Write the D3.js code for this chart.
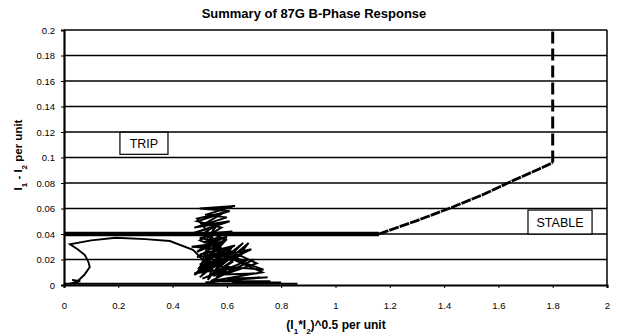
<!DOCTYPE html>
<html>
<head>
<meta charset="utf-8">
<script src="https://cdn.jsdelivr.net/npm/d3@7"></script>
<style>
  body { margin: 0; background: #fff; }
  text { font-family: "Liberation Sans", Arial, sans-serif; fill: #000; }
</style>
</head>
<body>
<div id="container"></div>
<script>
// relay characteristic: flat part then rising curve, then vertical dashed limit
var charFlat = [[0, 0.04], [1.16, 0.04]];
var charSlope = [[1.16, 0.04], [1.3, 0.0505], [1.43, 0.061], [1.55, 0.0715], [1.65, 0.0815], [1.75, 0.091], [1.8, 0.096]];
var charLimit = [[1.8, 0.096], [1.8, 0.2]];

var traceX = [0.00, 0.02, 0.04, 0.06, 0.03, 0.05, 0.075, 0.095, 0.09, 0.077, 0.05, 0.022, 0.10, 0.19, 0.30, 0.39, 0.475,
  0.52, 0.49, 0.56, 0.50, 0.58, 0.49, 0.61, 0.50, 0.63, 0.52, 0.60, 0.48, 0.57, 0.51, 0.62, 0.50, 0.58, 0.47,
  0.60, 0.50, 0.63, 0.53, 0.60, 0.49, 0.58, 0.52, 0.55, 0.50, 0.60, 0.48, 0.57, 0.53, 0.62, 0.50, 0.66, 0.55,
  0.68, 0.64, 0.60, 0.71, 0.56, 0.70, 0.54, 0.73, 0.58, 0.735, 0.56, 0.69, 0.52, 0.60, 0.50, 0.66, 0.54, 0.62,
  0.49, 0.59, 0.51, 0.61, 0.48, 0.56, 0.52, 0.60, 0.50, 0.57, 0.49, 0.62, 0.53, 0.58, 0.50, 0.55, 0.48, 0.60,
  0.51, 0.64, 0.55, 0.67, 0.57, 0.61, 0.52, 0.57, 0.50, 0.59, 0.53, 0.65, 0.56, 0.70, 0.60, 0.75, 0.62,
  0.52, 0.72, 0.58, 0.76, 0.62, 0.80, 0.70, 0.86, 0.60, 0.40, 0.20, 0.05, 0.00];
var traceY = [0.001, 0.001, 0.002, 0.003, 0.004, 0.003, 0.008, 0.014, 0.018, 0.0235, 0.028, 0.032, 0.035, 0.037, 0.036, 0.0345, 0.0275,
  0.018, 0.010, 0.030, 0.035, 0.045, 0.050, 0.058, 0.060, 0.062, 0.055, 0.053, 0.045, 0.048, 0.040, 0.042, 0.037, 0.033, 0.030,
  0.028, 0.024, 0.031, 0.020, 0.036, 0.026, 0.040, 0.016, 0.044, 0.012, 0.022, 0.008, 0.026, 0.004, 0.030, 0.006, 0.033, 0.010,
  0.033, 0.022, 0.028, 0.017, 0.006, 0.020, 0.003, 0.010, 0.024, 0.012, 0.015, 0.028, 0.020, 0.038, 0.014, 0.025, 0.007, 0.018,
  0.052, 0.057, 0.047, 0.050, 0.041, 0.046, 0.034, 0.038, 0.029, 0.032, 0.022, 0.026, 0.017, 0.021, 0.012, 0.014, 0.009, 0.013,
  0.005, 0.016, 0.007, 0.019, 0.024, 0.029, 0.021, 0.025, 0.016, 0.019, 0.011, 0.013, 0.008, 0.009, 0.005, 0.006, 0.004,
  0.002, 0.006, 0.003, 0.003, 0.002, 0.002, 0.001, 0.001, 0.001, 0.001, 0.001, 0.001, 0.001];

var xTicks = [0, 0.2, 0.4, 0.6, 0.8, 1, 1.2, 1.4, 1.6, 1.8, 2];
var yTicks = [0, 0.02, 0.04, 0.06, 0.08, 0.1, 0.12, 0.14, 0.16, 0.18, 0.2];

var width = 617, height = 336;
var m = {left: 64, right: 10, top: 30, bottom: 51};

var svg = d3.select('#container').append('svg')
  .attr('width', width)
  .attr('height', height);

var x = d3.scaleLinear().domain([0, 2]).range([m.left, width - m.right]);
var y = d3.scaleLinear().domain([0, 0.2]).range([height - m.bottom, m.top]);

// gridlines
svg.append('g').selectAll('line')
  .data(yTicks.slice(1))
  .enter().append('line')
    .attr('x1', x(0)).attr('x2', x(2))
    .attr('y1', function(d) { return y(d); })
    .attr('y2', function(d) { return y(d); })
    .attr('stroke', '#000')
    .attr('stroke-width', 1.6);

// right border
svg.append('line')
  .attr('x1', x(2)).attr('x2', x(2))
  .attr('y1', y(0.2)).attr('y2', y(0))
  .attr('stroke', '#000').attr('stroke-width', 1.5);

// axes
var xAxis = svg.append('g')
  .attr('transform', 'translate(0,' + y(0) + ')')
  .call(d3.axisBottom(x).tickValues(xTicks).tickSize(3).tickPadding(14)
    .tickFormat(function(d) { return d3.format('')(d); }));
var yAxis = svg.append('g')
  .attr('transform', 'translate(' + x(0) + ',0)')
  .call(d3.axisLeft(y).tickValues(yTicks).tickSize(3).tickPadding(6)
    .tickFormat(function(d) { return d3.format('')(d); }));

[xAxis, yAxis].forEach(function(a) {
  a.select('.domain').attr('stroke', '#000').attr('stroke-width', 2.2);
  a.selectAll('.tick line').attr('stroke', '#000').attr('stroke-width', 1);
  a.selectAll('text').style('font-family', '"Liberation Sans", Arial, sans-serif')
    .style('font-size', '9.5px');
});

var line = d3.line()
  .x(function(d) { return x(d[0]); })
  .y(function(d) { return y(d[1]); });

// trajectory
var trace = traceX.map(function(v, i) { return [v, traceY[i]]; });
svg.append('path')
  .datum(trace)
  .attr('d', line)
  .attr('fill', 'none')
  .attr('stroke', '#000')
  .attr('stroke-width', 1.9)
  .attr('stroke-linejoin', 'miter');

// characteristic
svg.append('path').datum(charFlat).attr('d', line)
  .attr('fill', 'none').attr('stroke', '#000').attr('stroke-width', 4.5);
svg.append('path').datum(charSlope).attr('d', line)
  .attr('fill', 'none').attr('stroke', '#000').attr('stroke-width', 2.8)
  .attr('stroke-dasharray', '10,1');
svg.append('path').datum(charLimit).attr('d', line)
  .attr('fill', 'none').attr('stroke', '#000').attr('stroke-width', 3)
  .attr('stroke-dasharray', '12,5');

// region labels
function box(label, x0, x1, y0, y1) {
  svg.append('rect')
    .attr('x', x(x0)).attr('y', y(y1))
    .attr('width', x(x1) - x(x0)).attr('height', y(y0) - y(y1))
    .attr('fill', '#fff').attr('stroke', '#000').attr('stroke-width', 1.2);
  svg.append('text')
    .attr('x', (x(x0) + x(x1)) / 2).attr('y', (y(y0) + y(y1)) / 2 + 4.5)
    .attr('text-anchor', 'middle')
    .style('font-size', '12.5px')
    .text(label);
}
box('TRIP', 0.206, 0.383, 0.1025, 0.1198);
box('STABLE', 1.709, 1.945, 0.04, 0.0588);

// titles
svg.append('text')
  .attr('x', 314).attr('y', 18)
  .attr('text-anchor', 'middle')
  .style('font-size', '13px').style('font-weight', 'bold')
  .text('Summary of 87G B-Phase Response');

var xl = svg.append('text')
  .attr('x', 336).attr('y', 329)
  .attr('text-anchor', 'middle')
  .style('font-size', '12px').style('font-weight', 'bold');
xl.append('tspan').text('(I');
xl.append('tspan').attr('baseline-shift', 'sub').style('font-size', '8px').text('1');
xl.append('tspan').text('*I');
xl.append('tspan').attr('baseline-shift', 'sub').style('font-size', '8px').text('2');
xl.append('tspan').text(')^0.5 per unit');

var yl = svg.append('text')
  .attr('transform', 'translate(22,' + 155 + ') rotate(-90)')
  .attr('text-anchor', 'middle')
  .style('font-size', '11.5px').style('font-weight', 'bold');
yl.append('tspan').text('I');
yl.append('tspan').attr('baseline-shift', 'sub').style('font-size', '8px').text('1');
yl.append('tspan').text(' - I');
yl.append('tspan').attr('baseline-shift', 'sub').style('font-size', '8px').text('2');
yl.append('tspan').text(' per unit');
</script>
</body>
</html>
